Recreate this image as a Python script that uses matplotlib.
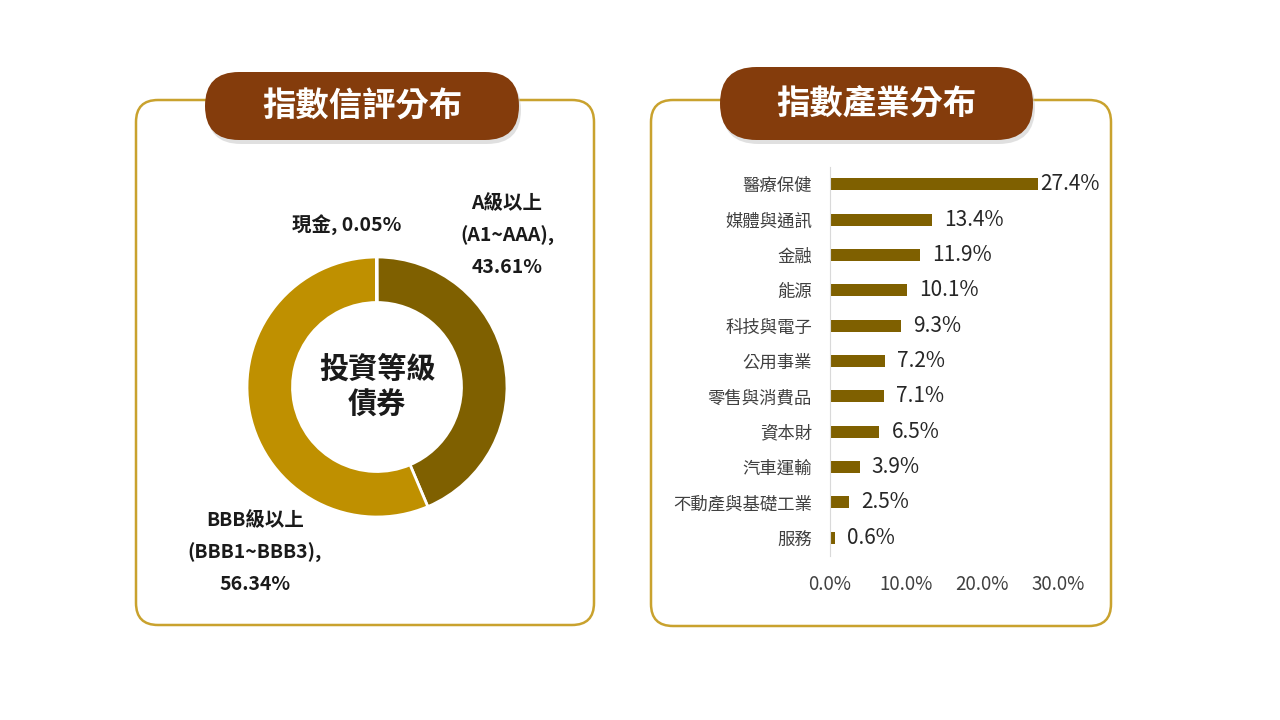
import matplotlib
matplotlib.use("Agg")
import matplotlib.pyplot as plt
from matplotlib.patches import FancyBboxPatch

plt.rcParams['font.family'] = ['Noto Sans CJK TC', 'DejaVu Sans']

# ---- data ----
rating_labels = ["A級以上\n(A1~AAA),\n43.61%", "BBB級以上\n(BBB1~BBB3),\n56.34%", "現金, 0.05%"]
rating_values = [43.61, 56.34, 0.05]
rating_colors = ["#7F6000", "#BF9000", "#BF9000"]

sectors = ["醫療保健", "媒體與通訊", "金融", "能源", "科技與電子", "公用事業",
           "零售與消費品", "資本財", "汽車運輸", "不動產與基礎工業", "服務"]
sector_values = [27.4, 13.4, 11.9, 10.1, 9.3, 7.2, 7.1, 6.5, 3.9, 2.5, 0.6]
x_ticks = [0, 10, 20, 30]
x_tick_labels = ["0.0%", "10.0%", "20.0%", "30.0%"]

W, H = 1280, 720
fig = plt.figure(figsize=(12.8, 7.2), dpi=100)
fig.patch.set_facecolor("white")

# background overlay in pixel coords (y down)
bg = fig.add_axes([0, 0, 1, 1])
bg.set_xlim(0, W)
bg.set_ylim(H, 0)
bg.axis("off")

gold = "#C9A22E"
brown = "#843C0C"

def panel(x0, x1, y0, y1, px0, px1, py0, py1, title):
    box = FancyBboxPatch((x0, y0), x1 - x0, y1 - y0,
                         boxstyle="round,pad=0,rounding_size=22",
                         fc="white", ec=gold, lw=1.8, zorder=1)
    bg.add_patch(box)
    sh = FancyBboxPatch((px0 + 2, py0 + 4), px1 - px0, py1 - py0,
                        boxstyle="round,pad=0,rounding_size=%f" % ((py1 - py0) / 2),
                        fc="#C8C8C8", ec="none", alpha=0.55, zorder=2)
    bg.add_patch(sh)
    pill = FancyBboxPatch((px0, py0), px1 - px0, py1 - py0,
                          boxstyle="round,pad=0,rounding_size=%f" % ((py1 - py0) / 2),
                          fc=brown, ec="none", zorder=3)
    bg.add_patch(pill)
    bg.text((px0 + px1) / 2, (py0 + py1) / 2 + 1, title, color="white",
            fontsize=24, fontweight="bold", ha="center", va="center", zorder=4)

panel(136, 594, 100, 625, 205, 519, 72, 140, "指數信評分布")
panel(651, 1111, 100, 626, 720, 1033, 67, 140, "指數產業分布")

# ---- donut ----
cx, cy, R = 377, 387, 130
dax = fig.add_axes([(cx - R) / W, 1 - (cy + R) / H, 2 * R / W, 2 * R / H])
dax.pie(rating_values, colors=rating_colors, startangle=90, counterclock=False,
        radius=1.0, wedgeprops=dict(width=0.35, edgecolor="white", linewidth=2))
dax.set_aspect("equal")
dax.set_xlim(-1, 1)
dax.set_ylim(-1, 1)
dax.text(0, 0, "投資等級\n債券", ha="center", va="center", fontsize=21,
         fontweight="bold", color="#1a1a1a", linespacing=1.25)

# labels in pixel coords
bg.text(507, 236, rating_labels[0], ha="center", va="center", fontsize=14,
        fontweight="bold", color="#1a1a1a", linespacing=1.8, zorder=5)
bg.text(255, 553, rating_labels[1], ha="center", va="center", fontsize=14,
        fontweight="bold", color="#1a1a1a", linespacing=1.8, zorder=5)
bg.text(347, 225, rating_labels[2], ha="center", va="center", fontsize=14,
        fontweight="bold", color="#1a1a1a", zorder=5)

# ---- bar chart ----
ax_l, ax_r, ax_t, ax_b = 830, 1058, 166.5, 555.5
bax = fig.add_axes([ax_l / W, 1 - ax_b / H, (ax_r - ax_l) / W, (ax_b - ax_t) / H])
ypos = list(range(len(sectors)))
bax.barh(ypos, sector_values, height=0.34, color="#7F6000")
bax.set_xlim(0, 30)
bax.set_ylim(len(sectors) - 0.5, -0.5)
bax.set_yticks(ypos)
bax.set_yticklabels(sectors, fontsize=12.5, color="#404040")
bax.set_xticks(x_ticks)
bax.set_xticklabels(x_tick_labels, fontsize=13.5, color="#404040")
bax.tick_params(axis="both", length=0)
bax.tick_params(axis="y", pad=13)
bax.tick_params(axis="x", pad=13)
for s in ["top", "right", "bottom"]:
    bax.spines[s].set_visible(False)
bax.spines["left"].set_color("#D9D9D9")
bax.patch.set_alpha(0)
for y, v in zip(ypos, sector_values):
    bax.text(v + 0.3 if v > 20 else v + 1.6, y, f"{v:.1f}%", va="center", ha="left",
             fontsize=15, color="#262626")

fig.savefig("out.png", dpi=100, facecolor="white")
